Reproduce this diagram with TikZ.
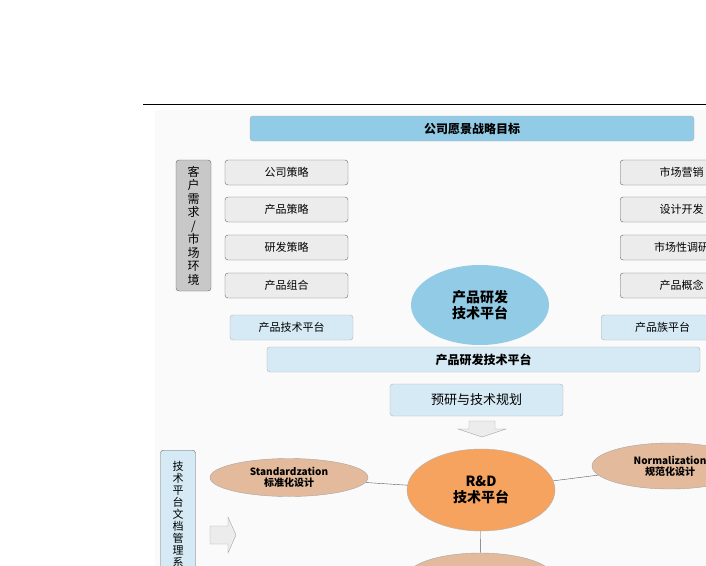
\documentclass[tikz,border=0pt]{standalone}
\usepackage{fontspec}
\setmainfont{Noto Sans CJK SC}
\usetikzlibrary{shapes.geometric}
\definecolor{skyblue}{HTML}{92CBE6}
\definecolor{paleblue}{HTML}{D5EAF4}
\definecolor{boxgray}{HTML}{ECECEC}
\definecolor{sidegray}{HTML}{C8C8C8}
\definecolor{tan}{HTML}{E3BB9C}
\definecolor{rdorange}{HTML}{F5A35E}
\tikzset{
  graybox/.style={draw=gray!80!black, fill=boxgray, rounded corners=3pt, minimum width=123pt, minimum height=25pt, font=\fontsize{11}{13}\selectfont},
  bluebox/.style={draw=gray!60, fill=paleblue, rounded corners=3pt, minimum height=25pt},
  sidebox/.style={draw=gray!80!black, rounded corners=3pt, minimum width=35pt, align=center, font=\fontsize{12}{13.5}\selectfont},
  tanell/.style={ellipse, draw=gray!70, fill=tan, inner sep=0pt, align=center, font=\bfseries\fontsize{10}{11}\selectfont},
  link/.style={draw=gray!70!black, thin},
  blockarrow/.style={draw=gray!70, fill=boxgray}
}
\begin{document}
\begin{tikzpicture}[x=1pt,y=-1pt]
  \useasboundingbox (0,0) rectangle (706,565);
  \clip (0,0) rectangle (706,565);
  % background
  \fill[black!2] (155,110) rectangle (720,570);
  \draw[black, thin] (143,104) -- (720,104);

  % upper part
  \node[bluebox, fill=skyblue, minimum width=444pt, font=\bfseries\fontsize{12}{14}\selectfont] (vision) at (472,128.5) {公司愿景战略目标};
  \node[sidebox, fill=sidegray, minimum height=131pt] (market) at (193.5,225.5) {客\\户\\需\\求\\/\\市\\场\\环\\境};
  \node[graybox] (s1) at (286.5,172.5) {公司策略};
  \node[graybox] (s2) at (286.5,209.5) {产品策略};
  \node[graybox] (s3) at (286.5,247.5) {研发策略};
  \node[graybox] (s4) at (286.5,285.5) {产品组合};
  \node[graybox, anchor=west] (m1) at (620,172.5) {市场营销};
  \node[graybox, anchor=west] (m2) at (620,209.5) {设计开发};
  \node[graybox, anchor=west] (m3) at (620,247.5) {市场性调研};
  \node[graybox, anchor=west] (m4) at (620,285.5) {产品概念};
  \node[ellipse, fill=skyblue, minimum width=138pt, minimum height=80pt, align=center, font=\bfseries\fontsize{14}{16}\selectfont] (core) at (480,305) {产品研发\\技术平台};
  \node[bluebox, minimum width=123pt, font=\fontsize{11}{13}\selectfont] (ptp) at (291.5,327.5) {产品技术平台};
  \node[bluebox, minimum width=123pt, anchor=west, font=\fontsize{11}{13}\selectfont] (pfp) at (601,327.5) {产品族平台};
  \node[bluebox, minimum width=433pt, font=\bfseries\fontsize{12}{14}\selectfont] (rdbar) at (483.5,359.5) {产品研发技术平台};

  % lower part
  \node[bluebox, minimum width=173pt, minimum height=32pt, font=\fontsize{13}{15}\selectfont] (pre) at (476.5,400) {预研与技术规划};
  \draw[blockarrow] (469,421) -- (495,421) -- (495,429) -- (506,429) -- (482,437) -- (458,429) -- (469,429) -- cycle;
  \node[ellipse, draw=gray!60, fill=rdorange, minimum width=148pt, minimum height=82pt, align=center, font=\bfseries\fontsize{14}{16}\selectfont] (rd) at (481,490) {R\&D\\技术平台};
  \node[tanell, minimum width=158pt, minimum height=38pt] (std) at (289,477.5) {Standardzation\\标准化设计};
  \node[tanell, minimum width=156pt, minimum height=46pt] (norm) at (670,466) {Normalization\\规范化设计};
  \node[tanell, minimum width=148pt, minimum height=50pt] (ser) at (480,578) {Seriation\\系列化设计};
  \draw[link] (std) -- (rd);
  \draw[link] (rd) -- (norm);
  \draw[link] (rd) -- (ser);
  \node[sidebox, fill=paleblue, minimum height=140pt, anchor=north, font=\fontsize{11}{12}\selectfont] (doc) at (178,450) {技\\术\\平\\台\\文\\档\\管\\理\\系\\统};
  \draw[blockarrow] (210,526) -- (228,526) -- (228,517) -- (236,535) -- (228,553) -- (228,544) -- (210,544) -- cycle;
\end{tikzpicture}
\end{document}
